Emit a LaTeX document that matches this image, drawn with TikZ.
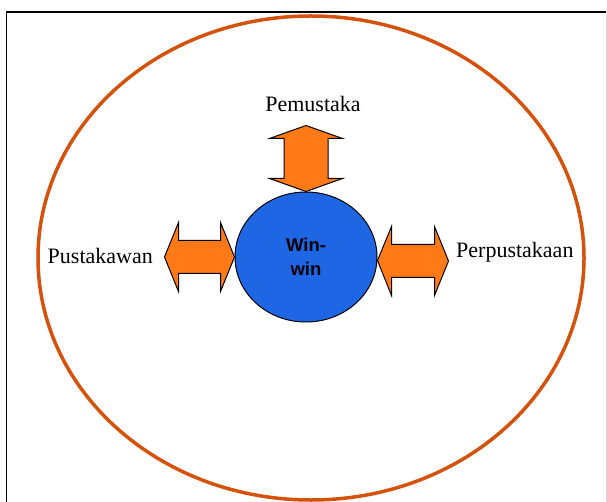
\documentclass[tikz,border=0pt]{standalone}
\usepackage{fontspec}
\setmainfont{Liberation Serif}
\setsansfont{Liberation Sans}
\usetikzlibrary{positioning,shapes.geometric}
\definecolor{ring}{RGB}{212,82,12}
\definecolor{arrowfill}{RGB}{255,122,22}
\definecolor{winblue}{RGB}{31,102,229}

\begin{document}
\begin{tikzpicture}[x=1pt,y=-1pt]
  \tikzset{
    dblarrow/.style={draw=black,fill=arrowfill,line width=1pt,line join=miter},
    lbl/.style={font=\fontsize{22}{24}\selectfont,inner sep=0pt}
  }
  \useasboundingbox (0,0) rectangle (607,502);
  % frame
  \draw[line width=1.2pt] (6.5,520)--(6.5,12)--(606,12);
  \draw[black!15,line width=0.8pt] (606,12)--(606,520);
  % outer ring
  \draw[ring,line width=3.5pt] (311,258) ellipse (273 and 242);
  % centre
  \node[ellipse,draw=black,fill=winblue,line width=1pt,minimum width=142,minimum height=130,inner sep=0pt,
        align=center,font=\sffamily\bfseries\fontsize{18.5}{24}\selectfont] (win) at (306,257) {Win-\\win};
  % top arrow
  \def\hw{36.5};
  \def\sw{22};
  \def\hh{13};
  \draw[dblarrow] (win.north)
        --++(-\hw,-\hh)--++(\hw-\sw,0)
        --++(0,-66+2*\hh)--++(-\hw+\sw,0)
        --++(\hw,-\hh)--++(\hw,\hh)
        --++(-\hw+\sw,0)--++(0,66-2*\hh)
        --++(\hw-\sw,0)--cycle;
  % left arrow
  \def\hw{34.5};
  \def\sw{16.5};
  \def\hh{14};
  \draw[dblarrow] (win.west)
        --++(-\hh,-\hw)--++(0,\hw-\sw)
        --++(-70+2*\hh,0)--++(0,-\hw+\sw)
        --++(-\hh,\hw)--++(\hh,\hw)
        --++(0,-\hw+\sw)--++(70-2*\hh,0)
        --++(0,\hw-\sw)--cycle;
  % right arrow
  \coordinate (rtip) at ([yshift=-3.5]win.east);
  \draw[dblarrow] (rtip)
        --++(\hh,-\hw+0.5)--++(0,\hw-\sw)
        --++(71-2*\hh,0)--++(0,-\hw+\sw)
        --++(\hh,\hw)--++(-\hh,\hw)
        --++(0,-\hw+\sw)--++(-71+2*\hh,0)
        --++(0,\hw-\sw)--cycle;
  % labels
  \node[lbl] (pemustaka) at (313,104) {Pemustaka};
  \node[lbl,anchor=east] (pustakawan) at (153,256) {Pustakawan};
  \node[lbl,anchor=west] (perpustakaan) at (456,252) {Perpustakaan};
\end{tikzpicture}
\end{document}
